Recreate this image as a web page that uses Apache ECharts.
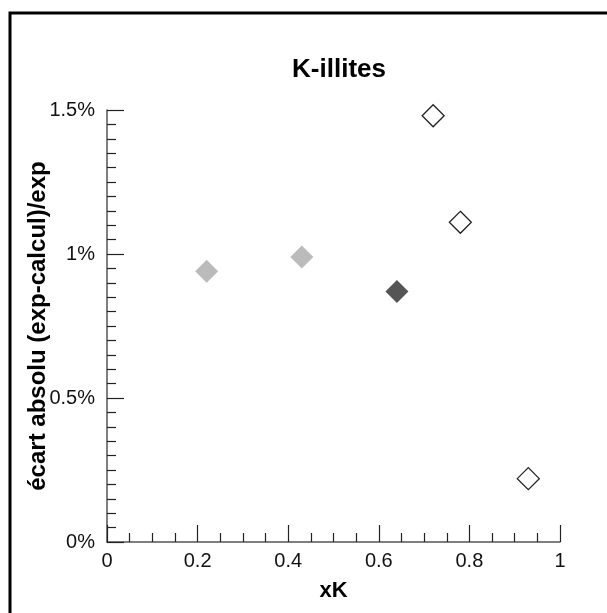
<!DOCTYPE html>
<html>
<head>
<meta charset="utf-8">
<script src="https://cdn.jsdelivr.net/npm/echarts@6/dist/echarts.min.js"></script>
<style>html,body{margin:0;padding:0;background:#fff}#c{width:607px;height:613px}</style>
</head>
<body>
<div id="c"></div>
<script>
const titleText = "K-illites";
const xName = "xK";
const yName = "écart absolu (exp-calcul)/exp";
// values: [xK, ecart in %]
const lightPoints = [[0.22, 0.94], [0.43, 0.99]];
const darkPoints = [[0.64, 0.87]];
const openPoints = [[0.72, 1.48], [0.78, 1.11], [0.93, 0.22]];
const xTicks = [0, 0.2, 0.4, 0.6, 0.8, 1];
const yTicks = [0, 0.5, 1, 1.5];

const font = "Liberation Sans, Arial, Helvetica, sans-serif";
const chart = echarts.init(document.getElementById('c'), null, {renderer: 'canvas'});
chart.setOption({
  animation: false,
  backgroundColor: '#fff',
  title: {
    text: titleText, left: 334, top: 52, textAlign: 'center',
    textStyle: {fontFamily: font, fontWeight: 'bold', fontSize: 26, color: '#000'}
  },
  graphic: [{
    type: 'rect', shape: {x: 10, y: 13, width: 700, height: 700},
    style: {fill: 'none', stroke: '#000', lineWidth: 3}, silent: true
  }],
  grid: {left: 107, right: 47, top: 110, bottom: 71, containLabel: false},
  xAxis: {
    type: 'value', min: xTicks[0], max: xTicks[xTicks.length - 1], interval: 0.2,
    name: xName, nameLocation: 'middle', nameGap: 38, nameMoveOverlap: false,
    nameTextStyle: {fontFamily: font, fontWeight: 'bold', fontSize: 22, color: '#000'},
    axisLine: {show: true, lineStyle: {color: '#555', width: 1.5}},
    axisTick: {show: true, inside: true, length: 17, lineStyle: {color: '#222', width: 1.2}},
    minorTick: {show: true, splitNumber: 4, length: 9, lineStyle: {color: '#222', width: 1.2}},
    axisLabel: {fontFamily: font, fontSize: 20, color: '#111', margin: 9,
      formatter: v => String(+v.toFixed(2))},
    splitLine: {show: false}
  },
  yAxis: {
    type: 'value', min: yTicks[0], max: yTicks[yTicks.length - 1], interval: 0.5,
    name: yName, nameLocation: 'middle', nameGap: 57, nameMoveOverlap: false,
    nameTextStyle: {fontFamily: font, fontWeight: 'bold', fontSize: 24, color: '#000'},
    axisLine: {show: true, lineStyle: {color: '#555', width: 1.5}},
    axisTick: {show: true, inside: true, length: 17, lineStyle: {color: '#222', width: 1.2}},
    minorTick: {show: true, splitNumber: 10, length: 9, lineStyle: {color: '#222', width: 1.2}},
    axisLabel: {fontFamily: font, fontSize: 20, color: '#111', margin: 12,
      formatter: v => String(+v.toFixed(2)) + '%'},
    splitLine: {show: false}
  },
  series: [
    {type: 'scatter', data: lightPoints, symbol: 'diamond', symbolSize: 23,
      itemStyle: {color: '#bbbbbb', borderWidth: 0, opacity: 1}},
    {type: 'scatter', data: darkPoints, symbol: 'diamond', symbolSize: 23,
      itemStyle: {color: '#555555', borderWidth: 0, opacity: 1}},
    {type: 'scatter', data: openPoints, symbol: 'diamond', symbolSize: 22,
      itemStyle: {color: '#ffffff', borderColor: '#222', borderWidth: 1.3, opacity: 1}}
  ]
});
</script>
</body>
</html>
